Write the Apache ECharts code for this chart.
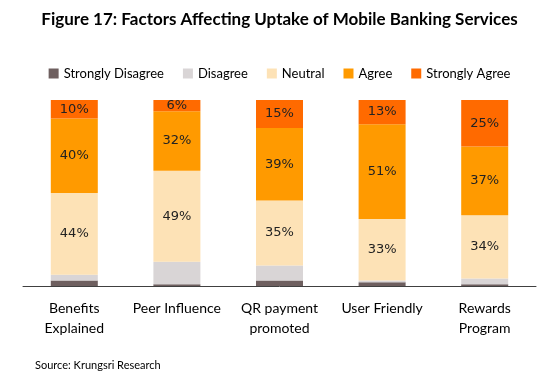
<!DOCTYPE html>
<html><head><meta charset="utf-8">
<script src="https://cdn.jsdelivr.net/npm/echarts@6/dist/echarts.min.js"></script>
<style>html,body{margin:0;padding:0;background:#fff}#c{width:559px;height:384px}</style>
</head><body><div id="c"></div>
<script>
const categories = ['Benefits\nExplained', 'Peer Influence', 'QR payment\npromoted', 'User Friendly', 'Rewards\nProgram'];
const stronglyDisagree = [3, 1, 3, 2, 1];
const disagree = [3, 12, 8, 1, 3];
const neutral = [44, 49, 35, 33, 34];
const agree = [40, 32, 39, 51, 37];
const stronglyAgree = [10, 6, 15, 13, 25];
const seriesNames = ['Strongly Disagree', 'Disagree', 'Neutral', 'Agree', 'Strongly Agree'];
const seriesData = [stronglyDisagree, disagree, neutral, agree, stronglyAgree];
const colors = ['#6e5f5f', '#d9d5d6', '#fde2b6', '#ff9a00', '#ff6a00'];
const showLabel = [false, false, true, true, true];

const chart = echarts.init(document.getElementById('c'), null, {renderer: 'canvas'});
chart.setOption({
  animation: false,
  title: {
    text: 'Figure 17: Factors Affecting Uptake of Mobile Banking Services',
    left: 'center', top: 6,
    textStyle: {fontFamily: 'Lato', fontWeight: 'bold', fontSize: 17, color: '#000'}
  },
  graphic: [{
    type: 'text', left: 35, top: 360,
    style: {text: 'Source: Krungsri Research', font: '11px Lato', fill: '#000'}
  }],
  legend: {
    top: 62, left: 'center',
    itemWidth: 10, itemHeight: 10, itemGap: 19,
    icon: 'rect',
    textStyle: {fontFamily: 'Lato', fontSize: 13, color: '#000'},
    data: seriesNames
  },
  grid: {left: 23, right: 23, top: 100, bottom: 98},
  xAxis: {
    type: 'category', data: categories,
    axisLine: {lineStyle: {color: '#404040', width: 1}},
    axisTick: {show: false},
    axisLabel: {fontFamily: 'Lato', fontSize: 14, color: '#000', lineHeight: 20, margin: 12, interval: 0}
  },
  yAxis: {type: 'value', min: 0, max: 100, show: false, splitLine: {show: false}},
  series: seriesNames.map((n, i) => ({
    name: n, type: 'bar', stack: 'total', barWidth: 47,
    data: seriesData[i],
    itemStyle: {color: colors[i]},
    label: {
      show: showLabel[i], position: 'inside', formatter: '{c}%',
      fontFamily: 'DejaVu Sans', fontSize: 13, color: '#222'
    }
  }))
});
</script></body></html>
